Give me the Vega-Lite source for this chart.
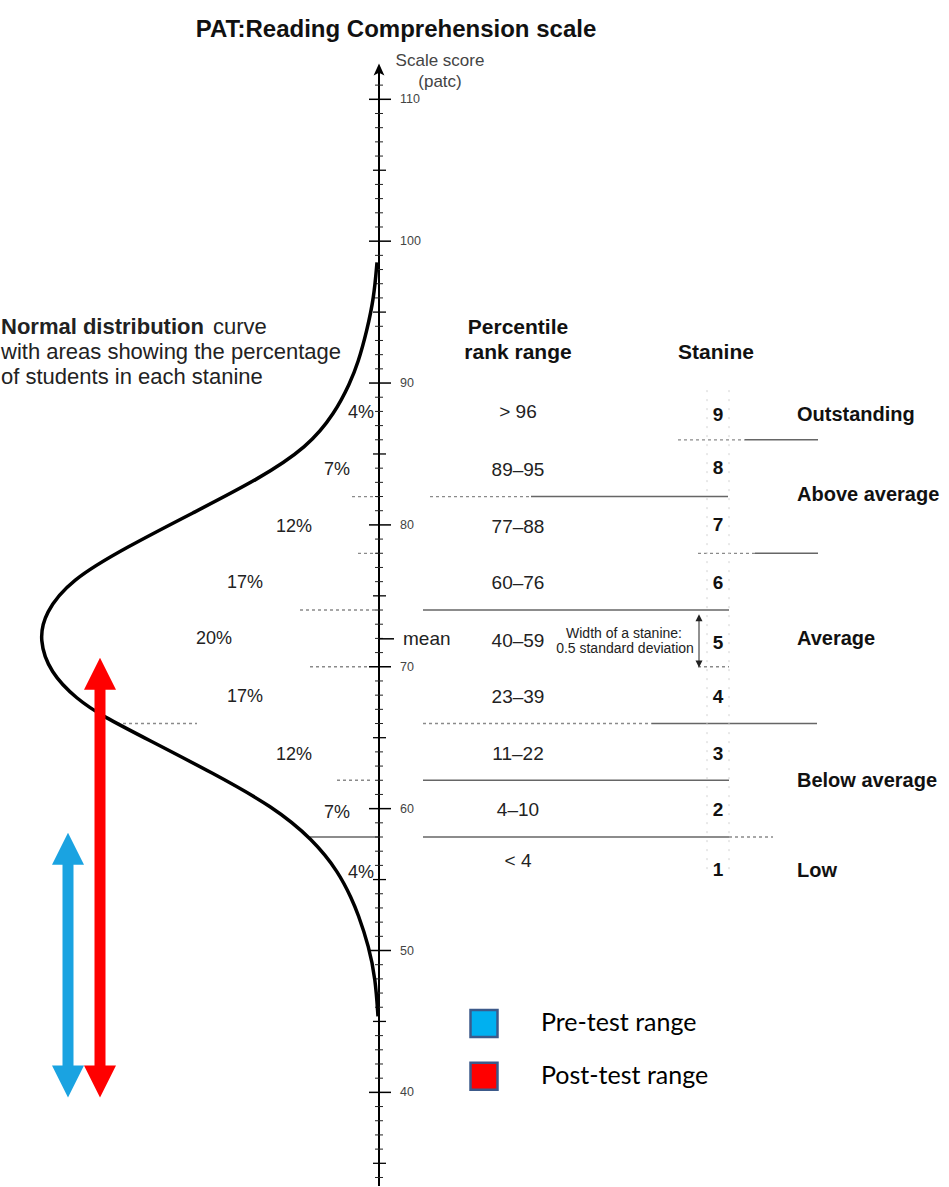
{
  "$schema": "https://vega.github.io/schema/vega-lite/v6.json",
  "width": 949,
  "height": 1187,
  "autosize": {"type": "fit", "contains": "padding"},
  "padding": 0,
  "background": "white",
  "config": {"view": {"stroke": null}, "text": {"font": "Liberation Sans"}},
  "datasets": {
    "hsolid": [
      {"s": 86, "h": 745, "h2": 818},
      {"s": 82, "h": 531, "h2": 728},
      {"s": 78, "h": 755, "h2": 818},
      {"s": 74, "h": 423, "h2": 729},
      {"s": 66, "h": 652, "h2": 817},
      {"s": 62, "h": 423, "h2": 729},
      {"s": 58, "h": 310, "h2": 380},
      {"s": 58, "h": 423, "h2": 729}
    ],
    "hdotted": [
      {"s": 86, "h": 678, "h2": 745},
      {"s": 82, "h": 430, "h2": 531},
      {"s": 82, "h": 352, "h2": 380},
      {"s": 78, "h": 698, "h2": 755},
      {"s": 78, "h": 358, "h2": 380},
      {"s": 74, "h": 300, "h2": 380},
      {"s": 70, "h": 310, "h2": 370},
      {"s": 70, "h": 698, "h2": 729},
      {"s": 66, "h": 117, "h2": 197},
      {"s": 66, "h": 423, "h2": 652},
      {"s": 62, "h": 337, "h2": 370},
      {"s": 58, "h": 729, "h2": 773}
    ],
    "vfaint": [
      {"h": 707, "s": 89.5, "s2": 55.3},
      {"h": 729, "s": 89.5, "s2": 55.3}
    ],
    "major": [
      {"s": 40, "label": "40"}, {"s": 50, "label": "50"}, {"s": 60, "label": "60"}, {"s": 70, "label": "70"},
      {"s": 80, "label": "80"}, {"s": 90, "label": "90"}, {"s": 100, "label": "100"}, {"s": 110, "label": "110"}
    ],
    "mid": [
      {"s": 35}, {"s": 45}, {"s": 55}, {"s": 65}, {"s": 75}, {"s": 85}, {"s": 95}, {"s": 105}
    ],
    "minor": [
      {"s": 34}, {"s": 36}, {"s": 37}, {"s": 38}, {"s": 39}, {"s": 41}, {"s": 42}, {"s": 43}, {"s": 44},
      {"s": 46}, {"s": 47}, {"s": 48}, {"s": 49}, {"s": 51}, {"s": 52}, {"s": 53}, {"s": 54},
      {"s": 56}, {"s": 57}, {"s": 58}, {"s": 59}, {"s": 61}, {"s": 62}, {"s": 63}, {"s": 64},
      {"s": 66}, {"s": 67}, {"s": 68}, {"s": 69}, {"s": 71}, {"s": 72}, {"s": 73}, {"s": 74},
      {"s": 76}, {"s": 77}, {"s": 78}, {"s": 79}, {"s": 81}, {"s": 82}, {"s": 83}, {"s": 84},
      {"s": 86}, {"s": 87}, {"s": 88}, {"s": 89}, {"s": 91}, {"s": 92}, {"s": 93}, {"s": 94},
      {"s": 96}, {"s": 97}, {"s": 98}, {"s": 99}, {"s": 101}, {"s": 102}, {"s": 103}, {"s": 104},
      {"s": 106}, {"s": 107}, {"s": 108}, {"s": 109}, {"s": 111}
    ],
    "curve": [
      {"s": 45.35, "h": 378}, {"s": 47.96, "h": 375.5}, {"s": 50.28, "h": 369}, {"s": 52.68, "h": 357.5},
      {"s": 53.59, "h": 352}, {"s": 55.49, "h": 339}, {"s": 57.82, "h": 313}, {"s": 60.14, "h": 273},
      {"s": 62.5, "h": 213}, {"s": 64.9, "h": 147}, {"s": 66.5, "h": 103}, {"s": 67.7, "h": 77},
      {"s": 69.6, "h": 50}, {"s": 71.9, "h": 39}, {"s": 73.8, "h": 45}, {"s": 76.1, "h": 70},
      {"s": 78.45, "h": 127}, {"s": 80.85, "h": 193}, {"s": 83.2, "h": 258}, {"s": 85.5, "h": 308},
      {"s": 87.9, "h": 335}, {"s": 90.0, "h": 350}, {"s": 91.4, "h": 358}, {"s": 93.7, "h": 367},
      {"s": 96.06, "h": 374}, {"s": 98.5, "h": 377}
    ],
    "arrows": [
      {"series": "Pre-test range", "h": 68, "top": 57.18, "bottom": 40.77},
      {"series": "Post-test range", "h": 100, "top": 69.51, "bottom": 40.77}
    ],
    "legend": [
      {"series": "Pre-test range", "s": 44.86},
      {"series": "Post-test range", "s": 41.13}
    ],
    "marks1": [
      {"s": 33.4, "s2": 112}
    ],
    "labels": [
      {"g": "title", "text": "PAT:Reading Comprehension scale", "h": 396, "s": 114.86},
      {"g": "axis", "text": "Scale score", "h": 440, "s": 112.68},
      {"g": "axis", "text": "(patc)", "h": 440, "s": 111.2},
      {"g": "mean", "text": "mean", "h": 403, "s": 71.97},
      {"g": "nbold", "text": "Normal distribution", "h": 1, "s": 93.94},
      {"g": "normal", "text": "curve", "h": 213, "s": 93.94},
      {"g": "normal", "text": "with areas showing the percentage", "h": 1, "s": 92.18},
      {"g": "normal", "text": "of students in each stanine", "h": 1, "s": 90.42},
      {"g": "pct", "text": "4%", "h": 361, "s": 87.89},
      {"g": "pct", "text": "7%", "h": 337, "s": 83.87},
      {"g": "pct", "text": "12%", "h": 294, "s": 79.86},
      {"g": "pct", "text": "17%", "h": 245, "s": 75.9},
      {"g": "pct", "text": "20%", "h": 214, "s": 71.97},
      {"g": "pct", "text": "17%", "h": 245, "s": 67.89},
      {"g": "pct", "text": "12%", "h": 294, "s": 63.8},
      {"g": "pct", "text": "7%", "h": 337, "s": 59.72},
      {"g": "pct", "text": "4%", "h": 361, "s": 55.49},
      {"g": "head", "text": "Percentile", "h": 518, "s": 93.87},
      {"g": "head", "text": "rank range", "h": 518, "s": 92.11},
      {"g": "head", "text": "Stanine", "h": 716, "s": 92.11},
      {"g": "prange", "text": "> 96", "h": 518, "s": 87.98},
      {"g": "prange", "text": "89–95", "h": 518, "s": 83.87},
      {"g": "prange", "text": "77–88", "h": 518, "s": 79.88},
      {"g": "prange", "text": "60–76", "h": 518, "s": 75.92},
      {"g": "prange", "text": "40–59", "h": 518, "s": 71.85},
      {"g": "prange", "text": "23–39", "h": 518, "s": 67.9},
      {"g": "prange", "text": "11–22", "h": 518, "s": 63.87},
      {"g": "prange", "text": "4–10", "h": 518, "s": 59.93},
      {"g": "prange", "text": "< 4", "h": 518, "s": 56.29},
      {"g": "stan", "text": "9", "h": 718, "s": 87.75},
      {"g": "stan", "text": "8", "h": 718, "s": 84.0},
      {"g": "stan", "text": "7", "h": 718, "s": 80.0},
      {"g": "stan", "text": "6", "h": 718, "s": 75.9},
      {"g": "stan", "text": "5", "h": 718, "s": 71.7},
      {"g": "stan", "text": "4", "h": 718, "s": 67.9},
      {"g": "stan", "text": "3", "h": 718, "s": 63.87},
      {"g": "stan", "text": "2", "h": 718, "s": 59.88},
      {"g": "stan", "text": "1", "h": 718, "s": 55.65},
      {"g": "cat", "text": "Outstanding", "h": 797, "s": 87.75},
      {"g": "cat", "text": "Above average", "h": 797, "s": 82.11},
      {"g": "cat", "text": "Average", "h": 797, "s": 71.97},
      {"g": "cat", "text": "Below average", "h": 797, "s": 61.92},
      {"g": "cat", "text": "Low", "h": 797, "s": 55.58},
      {"g": "note", "text": "Width of a stanine:", "h": 624, "s": 72.32},
      {"g": "note", "text": "0.5 standard deviation", "h": 625, "s": 71.27}
    ]
  },
  "layer": [
    {
      "data": {"name": "hdotted"},
      "mark": {"type": "rule", "color": "#8a8a8a", "strokeWidth": 1.3, "strokeDash": [3, 3]},
      "encoding": {
        "x": {"field": "h", "type": "quantitative", "scale": {"domain": [0, 949], "nice": false, "zero": false}, "axis": null},
        "x2": {"field": "h2"},
        "y": {"field": "s", "type": "quantitative", "scale": {"domain": [33.4, 117], "nice": false, "zero": false}, "axis": null}
      }
    },
    {
      "data": {"name": "hsolid"},
      "mark": {"type": "rule", "color": "#666666", "strokeWidth": 1.4},
      "encoding": {
        "x": {"field": "h", "type": "quantitative", "axis": null},
        "x2": {"field": "h2"},
        "y": {"field": "s", "type": "quantitative", "axis": null}
      }
    },
    {
      "data": {"name": "vfaint"},
      "mark": {"type": "rule", "color": "#d2d2d2", "strokeWidth": 1, "strokeDash": [2, 7]},
      "encoding": {
        "x": {"field": "h", "type": "quantitative", "axis": null},
        "y": {"field": "s", "type": "quantitative", "axis": null},
        "y2": {"field": "s2"}
      }
    },
    {
      "data": {"name": "marks1"},
      "mark": {"type": "rule", "color": "black", "strokeWidth": 2},
      "encoding": {
        "x": {"datum": 379, "type": "quantitative", "axis": null},
        "y": {"field": "s", "type": "quantitative", "axis": null},
        "y2": {"field": "s2"}
      }
    },
    {
      "data": {"name": "marks1"},
      "mark": {"type": "point", "shape": "M0,-1L-0.9,1L0,0.55L0.9,1Z", "filled": true, "color": "black", "opacity": 1, "size": 144},
      "encoding": {
        "x": {"datum": 379, "type": "quantitative", "axis": null},
        "y": {"datum": 112.1, "type": "quantitative", "axis": null}
      }
    },
    {
      "data": {"name": "major"},
      "mark": {"type": "rule", "color": "black", "strokeWidth": 1.5},
      "encoding": {
        "x": {"datum": 369, "type": "quantitative", "axis": null},
        "x2": {"datum": 391},
        "y": {"field": "s", "type": "quantitative", "axis": null}
      }
    },
    {
      "data": {"name": "mid"},
      "mark": {"type": "rule", "color": "black", "strokeWidth": 1.3},
      "encoding": {
        "x": {"datum": 373, "type": "quantitative", "axis": null},
        "x2": {"datum": 386},
        "y": {"field": "s", "type": "quantitative", "axis": null}
      }
    },
    {
      "data": {"name": "minor"},
      "mark": {"type": "rule", "color": "#222222", "strokeWidth": 1},
      "encoding": {
        "x": {"datum": 375, "type": "quantitative", "axis": null},
        "x2": {"datum": 383},
        "y": {"field": "s", "type": "quantitative", "axis": null}
      }
    },
    {
      "data": {"name": "marks1"},
      "mark": {"type": "rule", "color": "black", "strokeWidth": 1.5},
      "encoding": {
        "x": {"datum": 379, "type": "quantitative", "axis": null},
        "x2": {"datum": 394},
        "y": {"datum": 71.97, "type": "quantitative", "axis": null}
      }
    },
    {
      "data": {"name": "major"},
      "mark": {"type": "text", "align": "left", "baseline": "middle", "fontSize": 12.5, "color": "#444444"},
      "encoding": {
        "x": {"datum": 400, "type": "quantitative", "axis": null},
        "y": {"field": "s", "type": "quantitative", "axis": null},
        "text": {"field": "label"}
      }
    },
    {
      "data": {"name": "curve"},
      "mark": {"type": "line", "color": "black", "strokeWidth": 3.5, "interpolate": "basis"},
      "encoding": {
        "x": {"field": "h", "type": "quantitative", "axis": null},
        "y": {"field": "s", "type": "quantitative", "axis": null},
        "order": {"field": "s", "type": "quantitative"}
      }
    },
    {
      "data": {"name": "marks1"},
      "mark": {"type": "rule", "color": "#222222", "strokeWidth": 1},
      "encoding": {
        "x": {"datum": 699, "type": "quantitative", "axis": null},
        "y": {"datum": 73.55, "type": "quantitative", "axis": null},
        "y2": {"datum": 70.1}
      }
    },
    {
      "data": {"name": "marks1"},
      "mark": {"type": "point", "shape": "M-1,1L0,-1L1,1Z", "filled": true, "color": "#222222", "opacity": 1, "size": 49},
      "encoding": {
        "x": {"datum": 699, "type": "quantitative", "axis": null},
        "y": {"datum": 73.45, "type": "quantitative", "axis": null}
      }
    },
    {
      "data": {"name": "marks1"},
      "mark": {"type": "point", "shape": "M-1,-1L0,1L1,-1Z", "filled": true, "color": "#222222", "opacity": 1, "size": 49},
      "encoding": {
        "x": {"datum": 699, "type": "quantitative", "axis": null},
        "y": {"datum": 70.2, "type": "quantitative", "axis": null}
      }
    },
    {
      "data": {"name": "arrows"},
      "mark": {"type": "rule", "strokeWidth": 11, "strokeCap": "butt"},
      "encoding": {
        "x": {"field": "h", "type": "quantitative", "axis": null},
        "y": {"field": "top", "type": "quantitative", "axis": null},
        "y2": {"field": "bottom"},
        "color": {"field": "series", "type": "nominal", "scale": {"domain": ["Pre-test range", "Post-test range"], "range": ["#1AA3E1", "#FF0000"]}, "legend": null}
      }
    },
    {
      "data": {"name": "arrows"},
      "mark": {"type": "point", "shape": "M-1,1L0,-1L1,1Z", "filled": true, "opacity": 1, "size": 1024},
      "encoding": {
        "x": {"field": "h", "type": "quantitative", "axis": null},
        "y": {"field": "top", "type": "quantitative", "axis": null},
        "color": {"field": "series", "type": "nominal", "legend": null}
      }
    },
    {
      "data": {"name": "arrows"},
      "mark": {"type": "point", "shape": "M-1,-1L0,1L1,-1Z", "filled": true, "opacity": 1, "size": 1024},
      "encoding": {
        "x": {"field": "h", "type": "quantitative", "axis": null},
        "y": {"field": "bottom", "type": "quantitative", "axis": null},
        "color": {"field": "series", "type": "nominal", "legend": null}
      }
    },
    {
      "data": {"name": "legend"},
      "mark": {"type": "point", "shape": "square", "filled": true, "opacity": 1, "size": 729, "stroke": "#3C5A8A", "strokeWidth": 2.5},
      "encoding": {
        "x": {"datum": 484, "type": "quantitative", "axis": null},
        "y": {"field": "s", "type": "quantitative", "axis": null},
        "fill": {"field": "series", "type": "nominal", "scale": {"domain": ["Pre-test range", "Post-test range"], "range": ["#00B0F0", "#FF0000"]}, "legend": null}
      }
    },
    {
      "data": {"name": "legend"},
      "mark": {"type": "text", "align": "left", "baseline": "middle", "font": "Lato", "fontSize": 25, "color": "black"},
      "encoding": {
        "x": {"datum": 541, "type": "quantitative", "axis": null},
        "y": {"field": "s", "type": "quantitative", "axis": null},
        "text": {"field": "series"}
      }
    },
    {
      "data": {"name": "labels"},
      "transform": [{"filter": "datum.g === 'title'"}],
      "mark": {"type": "text", "align": "center", "baseline": "middle", "fontSize": 24, "fontWeight": "bold", "color": "#111111"},
      "encoding": {
        "x": {"field": "h", "type": "quantitative", "axis": null},
        "y": {"field": "s", "type": "quantitative", "axis": null},
        "text": {"field": "text"}
      }
    },
    {
      "data": {"name": "labels"},
      "transform": [{"filter": "datum.g === 'axis'"}],
      "mark": {"type": "text", "align": "center", "baseline": "middle", "fontSize": 17, "color": "#444444"},
      "encoding": {
        "x": {"field": "h", "type": "quantitative", "axis": null},
        "y": {"field": "s", "type": "quantitative", "axis": null},
        "text": {"field": "text"}
      }
    },
    {
      "data": {"name": "labels"},
      "transform": [{"filter": "datum.g === 'mean'"}],
      "mark": {"type": "text", "align": "left", "baseline": "middle", "fontSize": 19, "color": "#222222"},
      "encoding": {
        "x": {"field": "h", "type": "quantitative", "axis": null},
        "y": {"field": "s", "type": "quantitative", "axis": null},
        "text": {"field": "text"}
      }
    },
    {
      "data": {"name": "labels"},
      "transform": [{"filter": "datum.g === 'nbold'"}],
      "mark": {"type": "text", "align": "left", "baseline": "middle", "fontSize": 22, "fontWeight": "bold", "color": "#222222"},
      "encoding": {
        "x": {"field": "h", "type": "quantitative", "axis": null},
        "y": {"field": "s", "type": "quantitative", "axis": null},
        "text": {"field": "text"}
      }
    },
    {
      "data": {"name": "labels"},
      "transform": [{"filter": "datum.g === 'normal'"}],
      "mark": {"type": "text", "align": "left", "baseline": "middle", "fontSize": 22, "color": "#222222"},
      "encoding": {
        "x": {"field": "h", "type": "quantitative", "axis": null},
        "y": {"field": "s", "type": "quantitative", "axis": null},
        "text": {"field": "text"}
      }
    },
    {
      "data": {"name": "labels"},
      "transform": [{"filter": "datum.g === 'pct'"}],
      "mark": {"type": "text", "align": "center", "baseline": "middle", "fontSize": 18, "color": "#222222"},
      "encoding": {
        "x": {"field": "h", "type": "quantitative", "axis": null},
        "y": {"field": "s", "type": "quantitative", "axis": null},
        "text": {"field": "text"}
      }
    },
    {
      "data": {"name": "labels"},
      "transform": [{"filter": "datum.g === 'head'"}],
      "mark": {"type": "text", "align": "center", "baseline": "middle", "fontSize": 21, "fontWeight": "bold", "color": "#111111"},
      "encoding": {
        "x": {"field": "h", "type": "quantitative", "axis": null},
        "y": {"field": "s", "type": "quantitative", "axis": null},
        "text": {"field": "text"}
      }
    },
    {
      "data": {"name": "labels"},
      "transform": [{"filter": "datum.g === 'prange'"}],
      "mark": {"type": "text", "align": "center", "baseline": "middle", "fontSize": 19, "color": "#222222"},
      "encoding": {
        "x": {"field": "h", "type": "quantitative", "axis": null},
        "y": {"field": "s", "type": "quantitative", "axis": null},
        "text": {"field": "text"}
      }
    },
    {
      "data": {"name": "labels"},
      "transform": [{"filter": "datum.g === 'stan'"}],
      "mark": {"type": "text", "align": "center", "baseline": "middle", "fontSize": 19, "fontWeight": "bold", "color": "#111111"},
      "encoding": {
        "x": {"field": "h", "type": "quantitative", "axis": null},
        "y": {"field": "s", "type": "quantitative", "axis": null},
        "text": {"field": "text"}
      }
    },
    {
      "data": {"name": "labels"},
      "transform": [{"filter": "datum.g === 'cat'"}],
      "mark": {"type": "text", "align": "left", "baseline": "middle", "fontSize": 20, "fontWeight": "bold", "color": "#111111"},
      "encoding": {
        "x": {"field": "h", "type": "quantitative", "axis": null},
        "y": {"field": "s", "type": "quantitative", "axis": null},
        "text": {"field": "text"}
      }
    },
    {
      "data": {"name": "labels"},
      "transform": [{"filter": "datum.g === 'note'"}],
      "mark": {"type": "text", "align": "center", "baseline": "middle", "fontSize": 14, "color": "#222222"},
      "encoding": {
        "x": {"field": "h", "type": "quantitative", "axis": null},
        "y": {"field": "s", "type": "quantitative", "axis": null},
        "text": {"field": "text"}
      }
    }
  ]
}
